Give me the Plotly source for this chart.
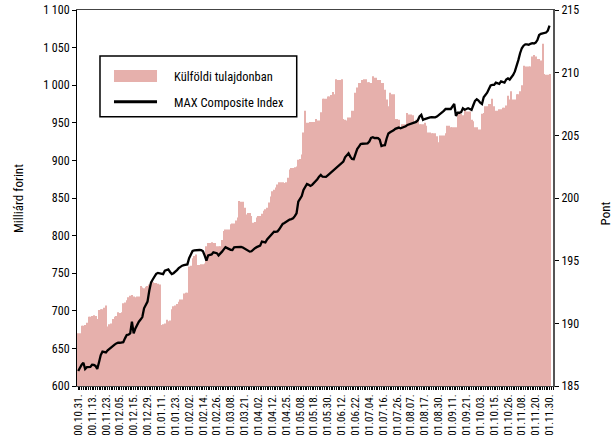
import plotly.graph_objects as go

# ---------------- data ----------------
tick_labels = [
    "00.10.31.", "00.11.13.", "00.11.23.", "00.12.05.", "00.12.15.", "00.12.29.",
    "01.01.11.", "01.01.23.", "01.02.02.", "01.02.14.", "01.02.26.", "01.03.08.",
    "01.03.21.", "01.04.02.", "01.04.12.", "01.04.25.", "01.05.08.", "01.05.18.",
    "01.05.30.", "01.06.12.", "01.06.22.", "01.07.04.", "01.07.16.", "01.07.26.",
    "01.08.07.", "01.08.17.", "01.08.30.", "01.09.11.", "01.09.21.", "01.10.03.",
    "01.10.15.", "01.10.26.", "01.11.08.", "01.11.20.", "01.11.30.",
]

# Külföldi tulajdonban (milliárd forint), one value per trading day
foreign_holdings = [
    670, 670, 680, 680, 681, 684, 692, 692, 693, 694,
    693, 689, 701, 702, 702, 704, 707, 679, 682, 683,
    689, 692, 693, 698, 697, 698, 710, 711, 714, 718,
    720, 721, 719, 718, 719, 719, 733, 731, 730, 732,
    733, 735, 739, 738, 737, 737, 736, 735, 681, 682,
    683, 688, 686, 687, 702, 706, 707, 709, 712, 715,
    715, 723, 724, 724, 759, 760, 770, 773, 775, 761,
    761, 762, 762, 763, 786, 790, 790, 791, 790, 790,
    786, 786, 786, 794, 806, 808, 808, 808, 815, 816,
    816, 820, 824, 846, 845, 845, 837, 828, 830, 830,
    826, 817, 818, 824, 826, 826, 829, 833, 835, 837,
    844, 852, 859, 861, 864, 868, 871, 871, 871, 870,
    871, 877, 888, 890, 890, 891, 892, 901, 902, 908,
    937, 966, 950, 950, 951, 951, 951, 955, 953, 953,
    964, 982, 982, 982, 985, 985, 987, 991, 988, 1008,
    1007, 1007, 1008, 955, 954, 953, 957, 957, 966, 966,
    990, 997, 1003, 1003, 1007, 1008, 1008, 1004, 1004, 1003,
    1012, 1010, 1010, 1007, 1007, 1003, 1003, 994, 981, 972,
    990, 988, 988, 955, 955, 954, 944, 948, 948, 948,
    963, 961, 961, 960, 950, 954, 954, 948, 948, 948,
    950, 946, 937, 937, 936, 936, 936, 932, 924, 933,
    933, 933, 936, 946, 946, 944, 944, 944, 944, 961,
    962, 962, 960, 968, 965, 965, 965, 954, 952, 944,
    944, 941, 941, 962, 963, 972, 972, 975, 975, 982,
    972, 966, 966, 968, 968, 970, 970, 973, 986, 981,
    992, 981, 981, 988, 988, 992, 1000, 1026, 1025, 1025,
    1025, 1025, 1038, 1040, 1038, 1035, 1035, 1033, 1055, 1015,
    1014, 1014, 1015,
]

# MAX Composite Index (pont)
max_index = [
    186.2, 186.5, 186.7, 186.86, 186.36, 186.5, 186.5, 186.52, 186.7, 186.68,
    186.6, 186.36, 186.9, 187.47, 187.74, 187.7, 187.68, 187.85, 187.98, 188.1,
    188.2, 188.3, 188.4, 188.46, 188.45, 188.47, 188.5, 188.8, 189.07, 189.1,
    189.2, 190.13, 189.2, 189.6, 189.9, 190.13, 190.3, 190.5, 191.2, 191.5,
    191.73, 192.6, 193.25, 193.5, 193.7, 193.95, 194.02, 194.0, 193.98, 193.93,
    194.2, 194.25, 194.3, 194.1, 193.93, 194.0, 194.1, 194.25, 194.4, 194.52,
    194.6, 194.65, 194.65, 194.7, 195.2, 195.5, 195.77, 195.82, 195.85, 195.86,
    195.85, 195.84, 195.75, 195.4, 195.0, 195.42, 195.45, 195.5, 195.67, 195.62,
    195.6, 195.42, 195.55, 195.72, 195.9, 196.07, 196.0, 195.9, 195.86, 195.85,
    196.07, 196.08, 196.1, 196.12, 196.1, 196.05, 195.98, 195.9, 195.8, 195.72,
    195.75, 195.9, 196.0, 196.08, 196.12, 196.2, 196.52, 196.48, 196.45, 196.7,
    196.85, 196.97, 197.15, 197.31, 197.3, 197.33, 197.5, 197.7, 197.93, 198.0,
    198.1, 198.15, 198.28, 198.32, 198.38, 198.55, 198.78, 199.7, 199.95, 200.15,
    200.64, 200.9, 201.12, 201.05, 200.96, 201.05, 201.18, 201.35, 201.5, 201.7,
    201.84, 201.7, 201.68, 201.68, 201.8, 201.92, 202.05, 202.18, 202.3, 202.45,
    202.55, 202.64, 202.78, 202.9, 203.25, 203.4, 203.57, 203.3, 203.12, 203.1,
    203.6, 203.9, 204.1, 204.3, 204.33, 204.36, 204.35, 204.36, 204.5, 204.8,
    204.85, 204.78, 204.8, 204.78, 204.65, 204.15, 204.2, 204.22, 204.75, 205.15,
    205.25, 205.3, 205.4, 205.52, 205.6, 205.62, 205.56, 205.6, 205.65, 205.72,
    205.83, 205.88, 205.95, 206.0, 206.05, 206.07, 206.2, 206.5, 206.63, 206.23,
    206.3, 206.36, 206.4, 206.44, 206.45, 206.43, 206.44, 206.5, 206.6, 206.7,
    206.85, 206.95, 207.1, 207.1, 207.12, 207.1, 207.3, 207.5, 206.55, 206.8,
    206.8, 206.85, 207.16, 207.05, 207.1, 207.16, 207.1, 207.03, 207.4, 207.75,
    207.88, 207.78, 207.6, 207.5, 208.04, 208.2, 208.4, 208.7, 208.98, 209.02,
    209.02, 209.2, 209.15, 209.1, 209.3, 209.25, 209.2, 209.45, 209.55, 209.45,
    209.6, 209.82, 210.1, 210.48, 211.0, 211.55, 211.95, 212.15, 212.26, 212.25,
    212.22, 212.3, 212.35, 212.33, 212.4, 212.6, 213.0, 213.1, 213.13, 213.15,
    213.2, 213.35, 213.75,
]

left_ticks = [600, 650, 700, 750, 800, 850, 900, 950, 1000, 1050, 1100]
left_tick_text = ["600", "650", "700", "750", "800", "850", "900", "950",
                  "1 000", "1 050", "1 100"]
right_ticks = [185, 190, 195, 200, 205, 210, 215]

series_names = ["Külföldi tulajdonban", "MAX Composite Index"]

# ---------------- figure ----------------
n = min(len(foreign_holdings), len(max_index))
x_idx = list(range(n))
label_pos = [i * 8 for i in range(len(tick_labels))]

FONT = "Liberation Sans Narrow, Arial Narrow, Roboto Condensed, Liberation Sans, sans-serif"
BAR_COLOR = "#E6B0AC"

fig = go.Figure()
fig.add_trace(go.Bar(
    x=x_idx, y=foreign_holdings[:n], name=series_names[0],
    marker=dict(color=BAR_COLOR, line=dict(width=0)),
    showlegend=False, hoverinfo="skip",
))
fig.add_trace(go.Scatter(
    x=x_idx, y=max_index[:n], name=series_names[1], yaxis="y2",
    mode="lines", line=dict(color="black", width=2.3),
    showlegend=False, hoverinfo="skip",
))

fig.update_layout(
    width=616, height=435,
    margin=dict(l=77, r=63, t=10, b=49, autoexpand=False),
    paper_bgcolor="white", plot_bgcolor="white",
    font=dict(family=FONT, size=12, color="black"),
    bargap=0.38,
    showlegend=False,
    xaxis=dict(
        range=[-0.7, 274], showgrid=False, zeroline=False, automargin=False,
        showline=True, linecolor="#444", linewidth=1, mirror=True,
        tickmode="array", tickvals=label_pos, ticktext=tick_labels,
        tickangle=-90, ticks="outside", ticklen=3, tickcolor="black",
        tickfont=dict(family=FONT, size=11),
        minor=dict(tickmode="linear", tick0=0, dtick=1, ticks="outside",
                   ticklen=3, tickcolor="black", showgrid=False),
    ),
    yaxis=dict(
        range=[600, 1100], showgrid=False, zeroline=False, automargin=False,
        showline=True, linecolor="black", linewidth=1,
        tickmode="array", tickvals=left_ticks, ticktext=left_tick_text,
        ticks="outside", ticklen=4, tickcolor="black",
        tickfont=dict(family=FONT, size=12),
    ),
    yaxis2=dict(
        range=[185, 215], overlaying="y", side="right", automargin=False,
        showgrid=False, zeroline=False,
        showline=True, linecolor="#555", linewidth=2,
        tickmode="array", tickvals=right_ticks,
        ticks="outside", ticklen=4, tickcolor="black",
        tickfont=dict(family=FONT, size=12),
    ),
)

# axis titles
fig.add_annotation(text="Milliárd forint", xref="paper", yref="paper",
                   x=-0.124, y=0.5, textangle=-90, showarrow=False,
                   font=dict(family=FONT, size=13), xanchor="center", yanchor="middle")
fig.add_annotation(text="Pont", xref="paper", yref="paper",
                   x=1.11, y=0.46, textangle=-90, showarrow=False,
                   font=dict(family=FONT, size=13), xanchor="center", yanchor="middle")

# legend box (drawn in paper coordinates)
fig.add_shape(type="rect", xref="paper", yref="paper",
              x0=0.0483, x1=0.4616, y0=0.7162, y1=0.8777,
              line=dict(color="black", width=1.5), fillcolor="white")
fig.add_shape(type="rect", xref="paper", yref="paper",
              x0=0.0777, x1=0.1681, y0=0.8085, y1=0.8404,
              line=dict(width=0), fillcolor=BAR_COLOR)
fig.add_shape(type="line", xref="paper", yref="paper",
              x0=0.0777, x1=0.1681, y0=0.7561, y1=0.7561,
              line=dict(color="black", width=3))
fig.add_annotation(text=series_names[0], xref="paper", yref="paper",
                   x=0.199, y=0.8235, xanchor="left", yanchor="middle",
                   showarrow=False, font=dict(family=FONT, size=12.5))
fig.add_annotation(text=series_names[1], xref="paper", yref="paper",
                   x=0.199, y=0.7545, xanchor="left", yanchor="middle",
                   showarrow=False, font=dict(family=FONT, size=12.5))

fig.write_html("out.html",
               config={"displayModeBar": False},
               post_script="document.body.style.margin='0';document.body.style.overflow='hidden';")
